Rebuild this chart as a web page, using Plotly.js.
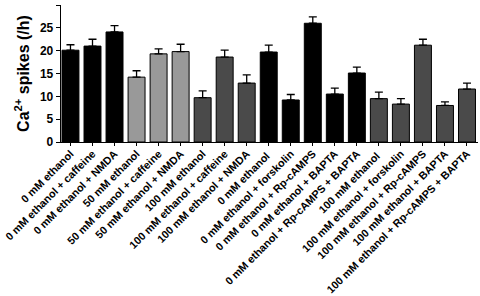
<!DOCTYPE html>
<html><head><meta charset="utf-8">
<script src="https://cdn.plot.ly/plotly-3.0.1.min.js"></script>
<style>html,body{margin:0;padding:0;background:#fff}#chart{width:480px;height:296px}</style>
</head><body><div id="chart"></div>
<script>
const categories = [
 "0 mM ethanol","0 mM ethanol + caffeine","0 mM ethanol + NMDA",
 "50 mM ethanol","50 mM ethanol + caffeine","50 mM ethanol + NMDA",
 "100 mM ethanol","100 mM ethanol + caffeine","100 mM ethanol + NMDA",
 "0 mM ethanol ","0 mM ethanol + forskolin","0 mM ethanol + Rp-cAMPS","0 mM ethanol + BAPTA","0 mM ethanol + Rp-cAMPS + BAPTA",
 "100 mM ethanol ","100 mM ethanol + forskolin","100 mM ethanol + Rp-cAMPS","100 mM ethanol + BAPTA","100 mM ethanol + Rp-cAMPS + BAPTA"
];
const values = [20.1,21.0,24.1,14.2,19.3,19.8,9.7,18.6,12.9,19.7,9.2,26.0,10.5,15.1,9.5,8.3,21.2,8.0,11.6];
const errors = [1.2,1.5,1.4,1.4,1.1,1.6,1.5,1.5,1.8,1.5,1.2,1.4,1.3,1.3,1.4,1.2,1.3,0.8,1.3];
const groups = ["k","k","k","l","l","l","d","d","d","k","k","k","k","k","d","d","d","d","d"];
const palette = {k:"#000000", l:"#999999", d:"#4a4a4a"};
const yTicks = [0,5,10,15,20,25,30];

const trace = {
  type:"bar", x: categories.map((c,i)=>i), y: values,
  marker:{color: groups.map(g=>palette[g]), line:{color:"#000", width:1}},
  error_y:{type:"data", array: errors, arrayminus: errors.map(()=>0), symmetric:false, color:"#000", thickness:1.3, width:4},
  hoverinfo:"none"
};
const layout = {
  width:480, height:296,
  margin:{l:61, r:2, t:5, b:154},
  paper_bgcolor:"#fff", plot_bgcolor:"#fff",
  bargap:0.23, showlegend:false,
  font:{family:"Liberation Sans, Arial, sans-serif", color:"#000"},
  xaxis:{
    range:[-0.43,18.5], tickmode:"array", tickvals: categories.map((c,i)=>i), ticktext: categories,
    tickangle:-45, tickfont:{size:10.8, family:"Liberation Sans, Arial, sans-serif", weight:"bold"},
    ticklabeloverflow:"allow", ticklabelstandoff:-3,
    showline:true, linecolor:"#000", linewidth:1.3, ticks:"outside", tickson:"boundaries", ticklen:3, tickcolor:"#000",
    showgrid:false, zeroline:false, fixedrange:true, automargin:false
  },
  yaxis:{
    range:[0,30], tickvals:yTicks, ticktext: yTicks.map(String),
    tickfont:{size:12, weight:"bold"},
    showline:true, linecolor:"#000", linewidth:1.3, ticks:"outside", ticklen:4, tickcolor:"#000",
    showgrid:false, zeroline:false, automargin:false,
    title:{text:"Ca<sup>2+</sup> spikes (/h)", font:{size:16, weight:"bold"}, standoff:6}
  }
};
Plotly.newPlot("chart",[trace],layout,{staticPlot:true});
</script></body></html>
